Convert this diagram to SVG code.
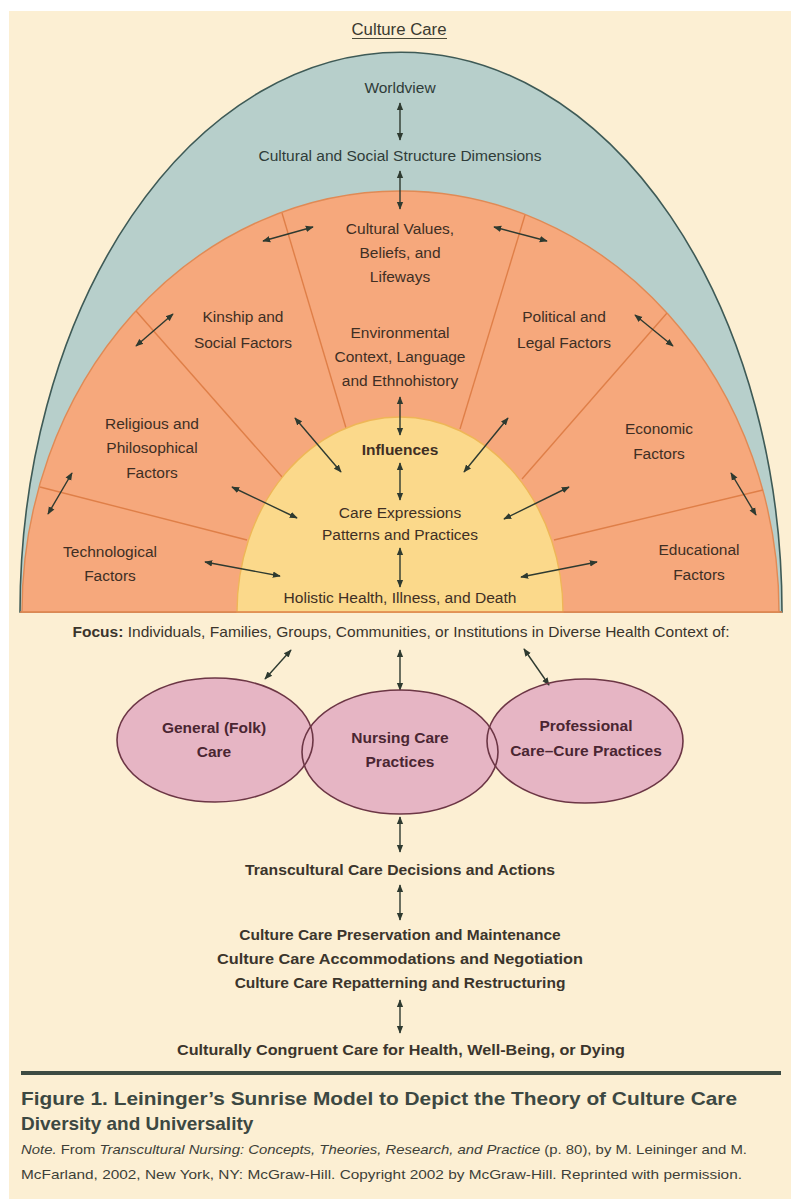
<svg xmlns="http://www.w3.org/2000/svg" width="791" height="1204" viewBox="0 0 791 1204">
<defs>
<style>
text{font-family:"Liberation Sans",Arial,sans-serif;}
.t{font-size:15.5px;fill:#3f2f24;text-anchor:middle;}
.tb{font-size:15.5px;fill:#2f3c39;text-anchor:middle;}
.bold{font-weight:bold;}
.e{font-size:15.5px;font-weight:bold;fill:#4a2632;text-anchor:middle;}
.bt{font-size:15.5px;font-weight:bold;fill:#3b352c;text-anchor:middle;}
.cap{font-size:19px;font-weight:bold;fill:#3c4842;}
.note{font-size:13.5px;fill:#3c3f38;}
.div{stroke:#df7f48;stroke-width:1.4;fill:none;}
.ar{stroke:#2e3a30;stroke-width:1.4;fill:none;marker-start:url(#ah);marker-end:url(#ah);}
.ell{fill:#e6b5c4;}
.elo{fill:none;stroke:#6c3645;stroke-width:1.6;}
</style>
<marker id="ah" viewBox="0 0 10 10" refX="9" refY="5" markerWidth="8" markerHeight="8" markerUnits="userSpaceOnUse" orient="auto-start-reverse">
<path d="M0,1 L10,5 L0,9 z" fill="#2e3a30"/>
</marker>
</defs>
<rect x="0" y="0" width="791" height="1204" fill="#ffffff"/>
<rect x="9" y="11" width="782" height="1188" fill="#fcefd3"/>

<!-- Sunrise arches -->
<g id="arches">
<path d="M20,612 A381,560 0 0 1 782,612 Z" fill="#b7cfcb" stroke="#3e5a56" stroke-width="1.6"/>
<path d="M22,612 A378.5,421 0 0 1 779,612 Z" fill="#f6a87c" stroke="#e08a55" stroke-width="1.4"/>
<line class="div" x1="40" y1="487" x2="247" y2="540"/>
<line class="div" x1="136" y1="311" x2="283" y2="478"/>
<line class="div" x1="282" y1="213" x2="346" y2="428"/>
<line class="div" x1="525" y1="215" x2="460" y2="429"/>
<line class="div" x1="667" y1="313" x2="522" y2="479"/>
<line class="div" x1="763" y1="490" x2="554" y2="540"/>
<path d="M237,612 A163,195 0 0 1 563,612 Z" fill="#fbd98b" stroke="#efb657" stroke-width="1.4"/>
<line x1="20" y1="612" x2="782" y2="612" stroke="#e08a55" stroke-width="1.6"/>
</g>

<!-- Title -->
<g id="title">
<text x="399" y="35" class="tb" style="font-size:16px;fill:#3a3a30" textLength="95" lengthAdjust="spacingAndGlyphs">Culture Care</text>
<line x1="352" y1="38.5" x2="447" y2="38.5" stroke="#4a4a3a" stroke-width="1.2"/>
</g>

<!-- Ellipse fills -->
<g id="ellipse-fills">
<ellipse class="ell" cx="215" cy="740" rx="98" ry="62"/>
<ellipse class="ell" cx="585" cy="741" rx="98" ry="62"/>
<ellipse class="ell" cx="400" cy="752" rx="98" ry="62"/>
</g>

<!-- Connectors -->
<g id="connectors">
<line class="ar" x1="400" y1="103" x2="400" y2="140"/>
<line class="ar" x1="400" y1="171" x2="400" y2="209"/>
<line class="ar" x1="263" y1="241" x2="313" y2="227"/>
<line class="ar" x1="494" y1="227" x2="547" y2="241"/>
<line class="ar" x1="136" y1="346" x2="173" y2="314"/>
<line class="ar" x1="635" y1="315" x2="673" y2="346"/>
<line class="ar" x1="400" y1="397" x2="400" y2="435"/>
<line class="ar" x1="295" y1="418" x2="341" y2="472"/>
<line class="ar" x1="508" y1="418" x2="464" y2="472"/>
<line class="ar" x1="400" y1="463" x2="400" y2="500"/>
<line class="ar" x1="48" y1="514" x2="72" y2="473"/>
<line class="ar" x1="232" y1="487" x2="297" y2="518"/>
<line class="ar" x1="569" y1="487" x2="504" y2="519"/>
<line class="ar" x1="731" y1="473" x2="756" y2="515"/>
<line class="ar" x1="400" y1="548" x2="400" y2="587"/>
<line class="ar" x1="205" y1="562" x2="280" y2="576"/>
<line class="ar" x1="597" y1="562" x2="521" y2="577"/>
<line class="ar" x1="265" y1="679" x2="291" y2="650"/>
<line class="ar" x1="400" y1="650" x2="400" y2="690"/>
<line class="ar" x1="524" y1="649" x2="549" y2="685"/>
<line class="ar" x1="400" y1="817" x2="400" y2="852"/>
<line class="ar" x1="400" y1="885" x2="400" y2="920"/>
<line class="ar" x1="400" y1="1000" x2="400" y2="1033"/>
</g>

<!-- Nodes -->
<g id="worldview"><text class="tb" x="400" y="93">Worldview</text></g>
<g id="cultural-social-structure"><text class="tb" x="400" y="161" textLength="283" lengthAdjust="spacingAndGlyphs">Cultural and Social Structure Dimensions</text></g>
<g id="cultural-values">
<text class="t" x="400" y="234">Cultural Values,</text>
<text class="t" x="400" y="258">Beliefs, and</text>
<text class="t" x="400" y="282">Lifeways</text>
</g>
<g id="kinship">
<text class="t" x="243" y="322">Kinship and</text>
<text class="t" x="243" y="348">Social Factors</text>
</g>
<g id="political">
<text class="t" x="564" y="322">Political and</text>
<text class="t" x="564" y="348">Legal Factors</text>
</g>
<g id="environmental">
<text class="t" x="400" y="338">Environmental</text>
<text class="t" x="400" y="362">Context, Language</text>
<text class="t" x="400" y="386">and Ethnohistory</text>
</g>
<g id="religious">
<text class="t" x="152" y="429">Religious and</text>
<text class="t" x="152" y="453">Philosophical</text>
<text class="t" x="152" y="478">Factors</text>
</g>
<g id="economic">
<text class="t" x="659" y="434">Economic</text>
<text class="t" x="659" y="459">Factors</text>
</g>
<g id="technological">
<text class="t" x="110" y="557">Technological</text>
<text class="t" x="110" y="581">Factors</text>
</g>
<g id="educational">
<text class="t" x="699" y="555">Educational</text>
<text class="t" x="699" y="580">Factors</text>
</g>
<g id="influences"><text class="t bold" x="400" y="455">Influences</text></g>
<g id="care-expressions">
<text class="t" x="400" y="518">Care Expressions</text>
<text class="t" x="400" y="540">Patterns and Practices</text>
</g>
<g id="holistic-health"><text class="t" x="400" y="603" textLength="233" lengthAdjust="spacingAndGlyphs">Holistic Health, Illness, and Death</text></g>

<g id="focus"><text x="401" y="637" style="font-size:14.5px;fill:#3a342c;text-anchor:middle" textLength="657" lengthAdjust="spacingAndGlyphs"><tspan font-weight="bold">Focus:</tspan> Individuals, Families, Groups, Communities, or Institutions in Diverse Health Context of:</text></g>

<g id="general-folk-care">
<ellipse class="elo" cx="215" cy="740" rx="98" ry="62"/>
<text class="e" x="214" y="733">General (Folk)</text>
<text class="e" x="214" y="757">Care</text>
</g>
<g id="nursing-care-practices">
<ellipse class="elo" cx="400" cy="752" rx="98" ry="62"/>
<text class="e" x="400" y="743">Nursing Care</text>
<text class="e" x="400" y="767">Practices</text>
</g>
<g id="professional-care">
<ellipse class="elo" cx="585" cy="741" rx="98" ry="62"/>
<text class="e" x="586" y="731">Professional</text>
<text class="e" x="586" y="756">Care–Cure Practices</text>
</g>

<g id="transcultural-decisions"><text class="bt" x="400" y="875" textLength="310" lengthAdjust="spacingAndGlyphs">Transcultural Care Decisions and Actions</text></g>
<g id="culture-care-actions">
<text class="bt" x="400" y="940">Culture Care Preservation and Maintenance</text>
<text class="bt" x="400" y="964" textLength="366" lengthAdjust="spacingAndGlyphs">Culture Care Accommodations and Negotiation</text>
<text class="bt" x="400" y="988">Culture Care Repatterning and Restructuring</text>
</g>
<g id="culturally-congruent-care"><text class="bt" x="401" y="1055" textLength="448" lengthAdjust="spacingAndGlyphs">Culturally Congruent Care for Health, Well-Being, or Dying</text></g>

<!-- Caption -->
<line x1="21" y1="1073" x2="781" y2="1073" stroke="#3d4b43" stroke-width="4"/>
<text class="cap" x="21" y="1105" textLength="716" lengthAdjust="spacingAndGlyphs">Figure 1. Leininger’s Sunrise Model to Depict the Theory of Culture Care</text>
<text class="cap" x="21" y="1130">Diversity and Universality</text>
<text class="note" x="21" y="1154" textLength="726" lengthAdjust="spacingAndGlyphs"><tspan font-style="italic">Note.</tspan> From <tspan font-style="italic">Transcultural Nursing: Concepts, Theories, Research, and Practice</tspan> (p. 80), by M. Leininger and M.</text>
<text class="note" x="21" y="1179" textLength="721" lengthAdjust="spacingAndGlyphs">McFarland, 2002, New York, NY: McGraw-Hill. Copyright 2002 by McGraw-Hill. Reprinted with permission.</text>
</svg>
